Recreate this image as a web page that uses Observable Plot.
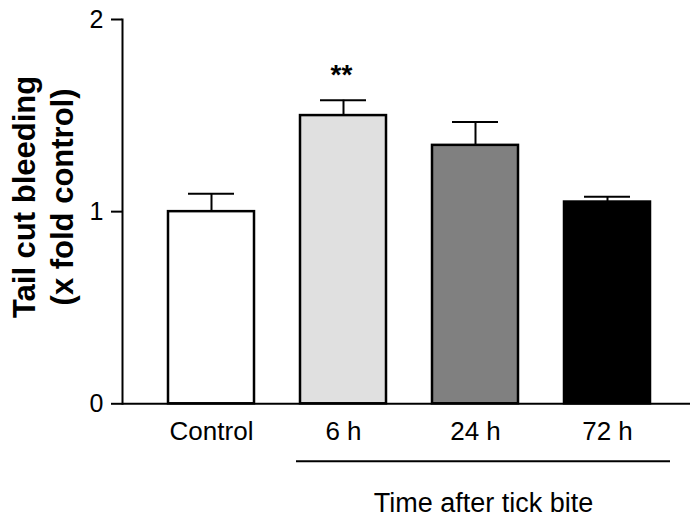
<!DOCTYPE html>
<html>
<head>
<meta charset="utf-8">
<script src="https://cdn.jsdelivr.net/npm/d3@7"></script>
<script src="https://cdn.jsdelivr.net/npm/@observablehq/plot@0.6"></script>
<style>
  html, body { margin: 0; padding: 0; background: #ffffff; }
</style>
</head>
<body>
<div id="chart"></div>
<script>
const groups = ["Control", "6 h", "24 h", "72 h"];
const means = [1.0, 1.50, 1.345, 1.05];
const sems = [0.093, 0.08, 0.121, 0.027];
const significance = ["", "**", "", ""];
const fills = ["#ffffff", "#e0e0e0", "#808080", "#000000"];
const yTicks = [0, 1, 2];
const yTitle = "Tail cut bleeding\n(x fold control)";
const xTitle = "Time after tick bite";
const bracketFrom = "6 h";
const bracketTo = "72 h";

const data = groups.map((g, i) => ({group: g, mean: means[i], sem: sems[i], sig: significance[i]}));

const chart = Plot.plot({
  width: 692,
  height: 526,
  marginLeft: 122,
  marginRight: 2,
  marginTop: 19,
  marginBottom: 122.7,
  style: {fontFamily: "'Liberation Sans', Arial, sans-serif", background: "#ffffff", color: "#000000"},
  x: {domain: groups, range: [120, 698], padding: 0.352, label: null},
  y: {domain: [0, 2], label: null},
  color: {domain: groups, range: fills},
  marks: [
    Plot.ruleX(data, {x: "group", y1: "mean", y2: d => d.mean + d.sem, stroke: "#000", strokeWidth: 2}),
    Plot.tickY(data, {x: "group", y: d => d.mean + d.sem, stroke: "#000", strokeWidth: 2, insetLeft: 20, insetRight: 20}),
    Plot.barY(data, {x: "group", y: "mean", fill: "group", stroke: "#000", strokeWidth: 2.5}),
    Plot.text(data, {x: "group", y: d => d.mean + d.sem, text: "sig", dy: -25, dx: -2, fontSize: 28, fontWeight: "bold", lineAnchor: "middle"}),
    Plot.ruleY([0], {stroke: "#000", strokeWidth: 2}),
    Plot.frame({anchor: "left", stroke: "#000", strokeWidth: 2}),
    Plot.axisY({ticks: yTicks, tickSize: 11, tickPadding: 8, fontSize: 25, strokeWidth: 2, tickFormat: d => String(d), label: null}),
    Plot.axisX({tickSize: 0, tickPadding: 18, fontSize: 26, label: null}),
    Plot.ruleY([{y: 0, from: bracketFrom, to: bracketTo}], {y: "y", x1: "from", x2: "to", dy: 57.5, insetLeft: -4, insetRight: -20, stroke: "#000", strokeWidth: 2}),
    Plot.text([xTitle], {frameAnchor: "bottom", text: d => d, dx: 77, dy: 100, fontSize: 27, lineAnchor: "middle"}),
    Plot.text([yTitle], {frameAnchor: "left", text: d => d, rotate: -90, textAnchor: "middle", dx: -81, dy: -14.7, fontSize: 31, fontWeight: "bold", lineAnchor: "middle", lineHeight: 1.25})
  ]
});
document.getElementById("chart").appendChild(chart);
</script>
</body>
</html>
